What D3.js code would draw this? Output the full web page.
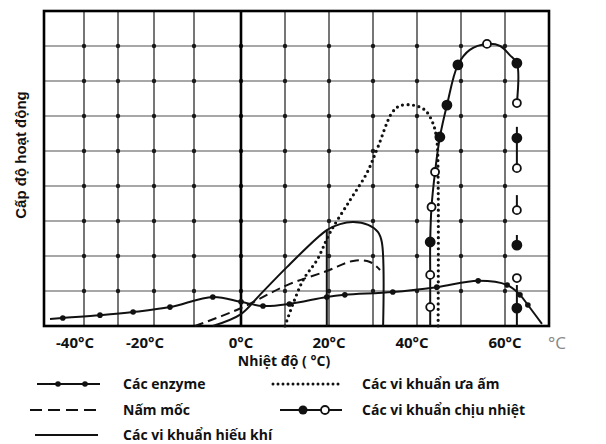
<!DOCTYPE html>
<html lang="vi">
<head>
<meta charset="UTF-8">
<title>Cấp độ hoạt động theo nhiệt độ</title>
<script src="https://d3js.org/d3.v7.min.js"></script>
<style>
  body { margin: 0; background: #fff; }
  text { font-family: "Open Sans", "DejaVu Sans", sans-serif; font-weight: bold; fill: #111; }
</style>
</head>
<body>
<div id="chart"></div>
<script>
// x ticks (°C) and grid
const tickTemps = [-40, -20, 0, 20, 40, 60];
const gridTemps = [-40, -30, -20, -10, 10, 20, 30, 40, 50, 60];
const gridLevels = [1, 2, 3, 4, 5, 6, 7, 8];

// Các enzyme
const enzymeT = [-48.5, -45.3, -35.3, -25.8, -16, -6, 0, 5, 11, 19.5, 23.6, 34.5, 44.5, 53.9, 60.5, 63.4, 65.2, 68.4];
const enzymeL = [0.2, 0.23, 0.31, 0.4, 0.54, 0.83, 0.69, 0.57, 0.63, 0.83, 0.89, 0.97, 1.11, 1.29, 1.17, 0.89, 0.6, 0.06];

// Nấm mốc
const moldT = [-9.8, -0.2, 10.5, 19.5, 25.5, 29.3, 31.6];
const moldL = [0, 0.5, 1.17, 1.57, 1.86, 1.83, 1.6];

// Các vi khuẩn hiếu khí
const aerobicT = [-6, 0, 4.3, 10.5, 19.5, 22.5, 25.5, 28.9, 31.1, 32, 32.3];
const aerobicL = [0, 0.34, 0.89, 1.69, 2.74, 2.91, 2.97, 2.89, 2.69, 2.4, 0];
const aerobicDropT = [19.5, 19.5];
const aerobicDropL = [2.74, 0];

// Các vi khuẩn ưa ấm
const mesoT = [10, 14.1, 17.3, 20.2, 24.8, 28.6, 31.1, 34.3, 36.1, 39.1, 41.8, 43.6, 44.5, 44.8, 44.8];
const mesoL = [0, 1.31, 1.89, 2.66, 3.6, 4.37, 5.11, 6.09, 6.29, 6.31, 6.17, 5.8, 5.31, 4.17, 0];

// Các vi khuẩn chịu nhiệt (segment id, marker: f = filled, o = open, "" = none)
const thermoT = [43, 43, 43, 43, 43.3, 44.1, 45.2, 46.8, 49.3, 52, 55.9, 58.9, 61.1, 62.7, 62.7,
                 62.7, 62.7, 62.7, 62.7, 62.7, 62.7, 62.7, 62.7, 62.7, 62.7, 62.7];
const thermoL = [0, 0.54, 1.46, 2.4, 3.4, 4.4, 5.4, 6.31, 7.46, 7.89, 8.06, 8, 7.74, 7.51, 6.37,
                 5.69, 5.37, 4.51, 3.74, 3.31, 2.6, 2.31, 1.37, 1.17, 0.51, 0];
const thermoMark = ["", "o", "o", "f", "o", "o", "f", "f", "f", "", "o", "", "", "f", "o",
                    "", "f", "o", "", "o", "", "f", "o", "", "f", ""];
const thermoSeg = [0, 0, 0, 0, 0, 0, 0, 0, 0, 0, 0, 0, 0, 0, 0,
                   1, 1, 1, 2, 2, 3, 3, 4, 5, 5, 5];

const legendNames = ["Các enzyme", "Nấm mốc", "Các vi khuẩn hiếu khí", "Các vi khuẩn ưa ấm", "Các vi khuẩn chịu nhiệt"];

const width = 606, height = 444;
const svg = d3.select("#chart").append("svg")
  .attr("width", width).attr("height", height);

const x = d3.scaleLinear()
  .domain([-50, -40, -30, -20, -10, 0, 70])
  .range([44, 84, 118, 154, 194, 241, 549]);
const y = d3.scaleLinear().domain([0, 9]).range([326, 11]);

const zip = (ts, ls) => ts.map((t, i) => [t, ls[i]]);
const line = d3.line().x(d => x(d[0])).y(d => y(d[1]));
const smooth = d3.line().x(d => x(d[0])).y(d => y(d[1])).curve(d3.curveCatmullRom);

// grid
svg.append("g").selectAll("line").data(gridTemps).join("line")
  .attr("x1", d => x(d)).attr("x2", d => x(d))
  .attr("y1", y(9)).attr("y2", y(0))
  .attr("stroke", "#5e5e5e").attr("stroke-width", 1.7);
svg.append("g").selectAll("line").data(gridLevels).join("line")
  .attr("x1", x(-50)).attr("x2", x(70))
  .attr("y1", d => y(d)).attr("y2", d => y(d))
  .attr("stroke", "#8a8a8a").attr("stroke-width", 1.6);
const nodes = [];
gridTemps.concat([0]).forEach(t => gridLevels.forEach(l => nodes.push([t, l])));
svg.append("g").selectAll("circle").data(nodes).join("circle")
  .attr("cx", d => x(d[0])).attr("cy", d => y(d[1])).attr("r", 2.2)
  .attr("fill", "#1a1a1a");

// frame and 0°C line
svg.append("rect")
  .attr("x", x(-50)).attr("y", y(9))
  .attr("width", x(70) - x(-50)).attr("height", y(0) - y(9))
  .attr("fill", "none").attr("stroke", "#000").attr("stroke-width", 2.6);
svg.append("line")
  .attr("x1", x(0)).attr("x2", x(0)).attr("y1", y(9)).attr("y2", y(0))
  .attr("stroke", "#000").attr("stroke-width", 2.6);

// tick labels
svg.append("g").selectAll("text").data(tickTemps).join("text")
  .attr("x", d => x(d)).attr("dx", d => d < 0 ? -9 : (d === 40 ? -5 : 0))
  .attr("y", 348).attr("text-anchor", "middle").attr("font-size", 15)
  .text(d => d + "°C");
svg.append("text").attr("x", 557).attr("y", 349).attr("text-anchor", "middle")
  .attr("font-size", 17).style("fill", "#888").style("font-weight", "normal").text("°C");

svg.append("text").attr("x", 284).attr("y", 366).attr("text-anchor", "middle")
  .attr("font-size", 14).text("Nhiệt độ ( °C)");
svg.append("text")
  .attr("transform", "translate(26,155) rotate(-90)")
  .attr("text-anchor", "middle").attr("font-size", 15)
  .style("font-family", "'Liberation Sans', Arial, sans-serif")
  .text("Cấp độ hoạt động");

// curves
const plot = svg.append("g").attr("fill", "none").attr("stroke", "#111");
plot.append("path").attr("d", smooth(zip(moldT, moldL)))
  .attr("stroke-width", 2).attr("stroke-dasharray", "9,5");
plot.append("path").attr("d", smooth(zip(aerobicT, aerobicL))).attr("stroke-width", 2);
plot.append("path").attr("d", line(zip(aerobicDropT, aerobicDropL))).attr("stroke-width", 2);
plot.append("path").attr("d", smooth(zip(mesoT, mesoL)))
  .attr("stroke-width", 3.2).attr("stroke-linecap", "round").attr("stroke-dasharray", "0,5.5");
plot.append("path").attr("d", smooth(zip(enzymeT, enzymeL))).attr("stroke-width", 2);
svg.append("g").selectAll("circle").data(zip(enzymeT, enzymeL).slice(1, -1)).join("circle")
  .attr("cx", d => x(d[0])).attr("cy", d => y(d[1])).attr("r", 2.8).attr("fill", "#111");

const thermo = thermoT.map((t, i) => ({ t, l: thermoL[i], m: thermoMark[i], s: thermoSeg[i] }));
const thermoLine = d3.line().x(d => x(d.t)).y(d => y(d.l)).curve(d3.curveCatmullRom);
d3.groups(thermo, d => d.s).forEach(([, pts]) => {
  if (pts.length < 2) return;
  plot.append("path").attr("d", thermoLine(pts)).attr("stroke-width", 2);
});
svg.append("g").selectAll("circle").data(thermo.filter(d => d.m)).join("circle")
  .attr("cx", d => x(d.t)).attr("cy", d => y(d.l))
  .attr("r", d => d.m === "f" ? 4.5 : 4)
  .attr("fill", d => d.m === "f" ? "#111" : "#fff")
  .attr("stroke", "#111").attr("stroke-width", 1.8);

// legend
const leg = svg.append("g");
const rows = [
  { x1: 37, x2: 100, y: 384, tx: 123, name: legendNames[0], type: "enzyme" },
  { x1: 30, x2: 100, y: 410, tx: 123, name: legendNames[1], type: "mold" },
  { x1: 35, x2: 98, y: 435, tx: 123, name: legendNames[2], type: "aerobic" },
  { x1: 273, x2: 343, y: 384, tx: 362, name: legendNames[3], type: "meso" },
  { x1: 280, x2: 342, y: 410, tx: 362, name: legendNames[4], type: "thermo" }
];
rows.forEach(r => {
  const l = leg.append("line").attr("x1", r.x1).attr("x2", r.x2).attr("y1", r.y).attr("y2", r.y)
    .attr("stroke", "#111").attr("stroke-width", 2);
  if (r.type === "mold") l.attr("stroke-dasharray", "12,6");
  if (r.type === "meso") l.attr("stroke-width", 3).attr("stroke-linecap", "round").attr("stroke-dasharray", "0,5");
  if (r.type === "enzyme") {
    [58, 85].forEach(cx => leg.append("circle").attr("cx", cx).attr("cy", r.y).attr("r", 2.8).attr("fill", "#111"));
  }
  if (r.type === "thermo") {
    leg.append("circle").attr("cx", 303).attr("cy", r.y).attr("r", 4.5).attr("fill", "#111");
    leg.append("circle").attr("cx", 325).attr("cy", r.y).attr("r", 4).attr("fill", "#fff")
      .attr("stroke", "#111").attr("stroke-width", 1.8);
  }
  leg.append("text").attr("x", r.tx).attr("y", r.y + 5).attr("font-size", 14).text(r.name);
});
</script>
</body>
</html>
